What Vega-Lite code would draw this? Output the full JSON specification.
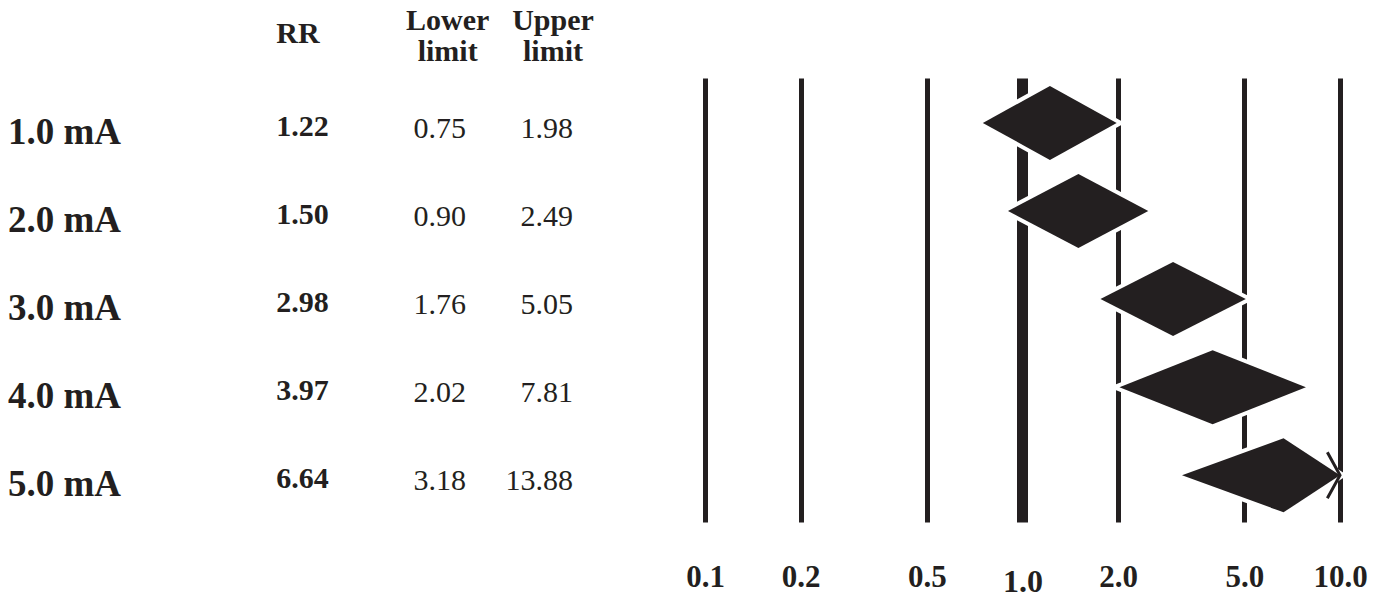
{
  "$schema": "https://vega.github.io/schema/vega-lite/v6.json",
  "padding": {"left": 8, "top": 5, "right": 5, "bottom": 2},
  "background": "white",
  "bounds": "flush",
  "spacing": 0,
  "config": {"view": {"stroke": null}, "font": "Liberation Serif"},
  "datasets": {
    "rows": [
      {"label": "1.0 mA", "rr": 1.22, "lower": 0.75, "upper": 1.98},
      {"label": "2.0 mA", "rr": 1.50, "lower": 0.90, "upper": 2.49},
      {"label": "3.0 mA", "rr": 2.98, "lower": 1.76, "upper": 5.05},
      {"label": "4.0 mA", "rr": 3.97, "lower": 2.02, "upper": 7.81},
      {"label": "5.0 mA", "rr": 6.64, "lower": 3.18, "upper": 13.88}
    ]
  },
  "hconcat": [
    {
      "width": 697,
      "height": 444,
      "data": {"name": "rows"},
      "transform": [{"window": [{"op": "row_number", "as": "idx"}], "sort": [{"field": "label"}]}],
      "layer": [
        {
          "mark": {"type": "text", "align": "left", "baseline": "middle", "fontSize": 37, "fontWeight": "bold", "color": "#231f20", "dy": 10},
          "encoding": {
            "x": {"datum": "label", "type": "ordinal", "scale": {"type": "point", "domain": ["label", "RR", "Lower limit", "Upper limit"], "range": [0, 565], "padding": 0}, "axis": null},
            "y": {"field": "idx", "type": "quantitative", "scale": {"domain": [0.49, 5.53], "reverse": true, "nice": false, "zero": false}, "axis": null},
            "text": {"field": "label"}
          }
        },
        {
          "mark": {"type": "text", "align": "left", "baseline": "middle", "fontSize": 30, "fontWeight": "bold", "color": "#231f20", "dx": 80, "dy": 4},
          "encoding": {
            "x": {"datum": "RR", "type": "ordinal"},
            "y": {"field": "idx", "type": "quantitative"},
            "text": {"field": "rr", "format": ".2f"}
          }
        },
        {
          "mark": {"type": "text", "align": "center", "baseline": "middle", "fontSize": 30, "color": "#231f20", "dx": 55, "dy": 6},
          "encoding": {
            "x": {"datum": "Lower limit", "type": "ordinal"},
            "y": {"field": "idx", "type": "quantitative"},
            "text": {"field": "lower", "format": ".2f"}
          }
        },
        {
          "mark": {"type": "text", "align": "right", "baseline": "middle", "fontSize": 30, "color": "#231f20", "dx": 0, "dy": 6},
          "encoding": {
            "x": {"datum": "Upper limit", "type": "ordinal"},
            "y": {"field": "idx", "type": "quantitative"},
            "text": {"field": "upper", "format": ".2f"}
          }
        },
        {
          "data": {"values": [{"h": "RR"}]},
          "mark": {"type": "text", "align": "left", "baseline": "middle", "fontSize": 30, "fontWeight": "bold", "color": "#231f20", "dx": 80, "dy": 13},
          "encoding": {
            "x": {"datum": "RR", "type": "ordinal"},
            "y": {"datum": -0.16, "type": "quantitative"},
            "text": {"field": "h"}
          }
        },
        {
          "data": {"values": [{"h": "Lower\nlimit"}]},
          "mark": {"type": "text", "align": "center", "baseline": "middle", "fontSize": 30, "fontWeight": "bold", "color": "#231f20", "dx": 63, "lineBreak": "\n", "lineHeight": 31},
          "encoding": {
            "x": {"datum": "Lower limit", "type": "ordinal"},
            "y": {"datum": -0.16, "type": "quantitative"},
            "text": {"field": "h"}
          }
        },
        {
          "data": {"values": [{"h": "Upper\nlimit"}]},
          "mark": {"type": "text", "align": "center", "baseline": "middle", "fontSize": 30, "fontWeight": "bold", "color": "#231f20", "dx": -20, "lineBreak": "\n", "lineHeight": 31},
          "encoding": {
            "x": {"datum": "Upper limit", "type": "ordinal"},
            "y": {"datum": -0.16, "type": "quantitative"},
            "text": {"field": "h"}
          }
        }
      ]
    },
    {
      "width": 635,
      "height": 444,
      "data": {"name": "rows"},
      "transform": [
        {"window": [{"op": "row_number", "as": "idx"}], "sort": [{"field": "label"}]},
        {"fold": ["lower", "rr", "upper"], "as": ["part", "value"]},
        {"calculate": "datum.part == 'rr' ? 0.42 : 0", "as": "half"},
        {"calculate": "datum.idx - datum.half", "as": "ytop"},
        {"calculate": "datum.idx + datum.half", "as": "ybot"}
      ],
      "encoding": {
        "x": {
          "field": "value",
          "type": "quantitative",
          "scale": {"type": "log", "domain": [0.1, 10], "nice": false, "clamp": true},
          "axis": {
            "title": null,
            "values": [0.1, 0.2, 0.5, 1, 2, 5, 10],
            "format": ".1f",
            "grid": true,
            "gridColor": "#231f20",
            "gridOpacity": 1,
            "gridWidth": {"condition": {"test": "datum.value === 1", "value": 11}, "value": 5},
            "domain": false,
            "ticks": false,
            "labelFont": "Liberation Serif",
            "labelFontWeight": "bold",
            "labelFontSize": {"condition": {"test": "datum.value === 1", "value": 32}, "value": 31},
            "labelPadding": {"condition": {"test": "datum.value === 1", "value": 44}, "value": 40},
            "labelColor": "#231f20",
            "labelFlush": false,
            "labelOverlap": false
          }
        },
        "y": {"field": "ytop", "type": "quantitative", "scale": {"domain": [0.49, 5.53], "reverse": true, "nice": false, "zero": false}, "axis": null}
      },
      "layer": [
        {
          "mark": {"type": "area", "color": "white", "stroke": "white", "strokeWidth": 8},
          "encoding": {
            "y2": {"field": "ybot"},
            "detail": {"field": "label", "type": "nominal"}
          }
        },
        {
          "mark": {"type": "area", "color": "#231f20"},
          "encoding": {
            "y2": {"field": "ybot"},
            "detail": {"field": "label", "type": "nominal"}
          }
        },
        {
          "transform": [{"filter": "datum.part == 'upper' && datum.value > 10"}],
          "mark": {"type": "point", "shape": "M -0.55 -1 L 0 0 L -0.55 1", "filled": false, "size": 2116, "strokeWidth": 3, "color": "#231f20", "opacity": 1},
          "encoding": {
            "y": {"field": "idx", "type": "quantitative"}
          }
        }
      ]
    }
  ]
}
